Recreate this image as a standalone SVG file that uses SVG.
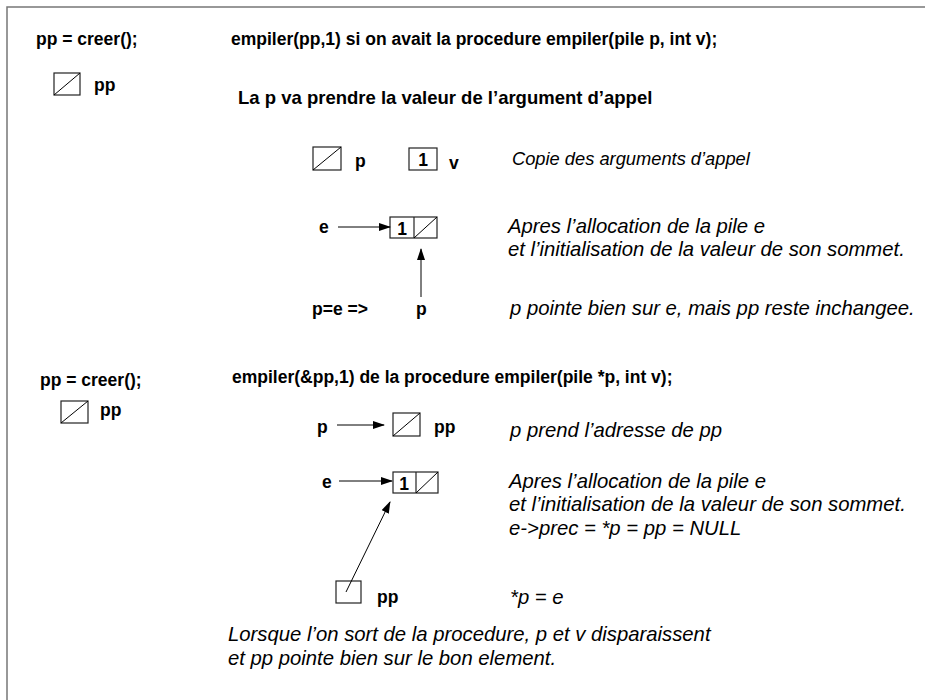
<svg xmlns="http://www.w3.org/2000/svg" width="925" height="700" viewBox="0 0 925 700">
<style>
.b{font-family:"Liberation Sans",Arial,sans-serif;font-weight:bold;font-size:17.5px;fill:#000}
.i{font-family:"Liberation Sans",Arial,sans-serif;font-style:italic;font-size:20.3px;fill:#000}
.box{fill:#fff;stroke:#222;stroke-width:1.2}
.dg{stroke:#000;stroke-width:1;fill:none}
.con{stroke:#000;stroke-width:1;fill:none;marker-end:url(#ah)}
</style>
<defs>
<marker id="ah" markerWidth="12" markerHeight="8" refX="11" refY="4" orient="auto" markerUnits="userSpaceOnUse">
<path d="M0,0 L12,4 L0,8 z" fill="#000"/>
</marker>
</defs>
<rect width="925" height="700" fill="#fff"/>
<path d="M7,700 V7 H925" stroke="#777" stroke-width="1.5" fill="none"/>

<g id="top-titles">
<text class="b" x="36" y="45">pp = creer();</text>
<text class="b" x="231" y="45">empiler(pp,1) si on avait la procedure empiler(pile p, int v);</text>
<text class="b" x="238" y="104" style="font-size:18.5px">La p va prendre la valeur de l’argument d’appel</text>
</g>
<g id="top-pp">
<rect class="box" x="54" y="73" width="26" height="22"/>
<line class="dg" x1="54" y1="95" x2="80" y2="73"/>
<text class="b" x="94" y="91">pp</text>
</g>
<g id="top-p">
<rect class="box" x="313" y="147" width="28" height="23"/>
<line class="dg" x1="313" y1="170" x2="341" y2="147"/>
<text class="b" x="355" y="167">p</text>
</g>
<g id="top-v">
<rect class="box" x="409" y="148" width="28" height="22"/>
<text class="b" x="423" y="166" text-anchor="middle">1</text>
<text class="b" x="449" y="169">v</text>
</g>
<text class="i" x="512" y="165" id="top-copie" style="font-size:18.3px">Copie des arguments d’appel</text>
<g id="top-e">
<text class="b" x="319" y="233">e</text>
</g>
<g id="top-cell">
<rect class="box" x="390" y="217" width="47" height="21"/>
<line class="box" x1="414" y1="217" x2="414" y2="238"/>
<text class="b" x="402" y="235" text-anchor="middle">1</text>
<line class="dg" x1="414" y1="238" x2="437" y2="217"/>
</g>
<g id="top-pe">
<text class="b" x="312" y="315">p=e =&gt;</text>
<text class="b" x="416" y="315">p</text>
</g>
<g id="top-notes">
<text class="i" x="508" y="233">Apres l’allocation de la pile e</text>
<text class="i" x="508" y="256">et l’initialisation de la valeur de son sommet.</text>
<text class="i" x="510" y="315">p pointe bien sur e, mais pp reste inchangee.</text>
</g>

<g id="bot-titles">
<text class="b" x="40" y="386">pp = creer();</text>
<text class="b" x="232" y="383">empiler(&amp;pp,1) de la procedure empiler(pile *p, int v);</text>
</g>
<g id="bot-pp">
<rect class="box" x="61" y="401" width="27" height="22"/>
<line class="dg" x1="61" y1="423" x2="88" y2="401"/>
<text class="b" x="100" y="416">pp</text>
</g>
<g id="bot-p">
<text class="b" x="317" y="433">p</text>
</g>
<g id="bot-pp2">
<rect class="box" x="393" y="413" width="27" height="23"/>
<line class="dg" x1="393" y1="436" x2="420" y2="413"/>
<text class="b" x="434" y="433">pp</text>
</g>
<g id="bot-e">
<text class="b" x="322" y="488">e</text>
</g>
<g id="bot-cell">
<rect class="box" x="393" y="472" width="45" height="21"/>
<line class="box" x1="416" y1="472" x2="416" y2="493"/>
<text class="b" x="404" y="490" text-anchor="middle">1</text>
<line class="dg" x1="416" y1="493" x2="438" y2="472"/>
</g>
<g id="bot-pp3">
<rect class="box" x="336" y="581" width="25" height="22"/>
<text class="b" x="377" y="603">pp</text>
</g>
<g id="bot-notes">
<text class="i" x="510" y="437">p prend l’adresse de pp</text>
<text class="i" x="509" y="488">Apres l’allocation de la pile e</text>
<text class="i" x="509" y="511">et l’initialisation de la valeur de son sommet.</text>
<text class="i" x="509" y="535">e-&gt;prec = *p = pp = NULL</text>
<text class="i" x="510" y="604">*p = e</text>
<text class="i" x="228" y="641">Lorsque l’on sort de la procedure, p et v disparaissent</text>
<text class="i" x="228" y="665">et pp pointe bien sur le bon element.</text>
</g>

<g id="connectors">
<line class="con" x1="338" y1="227" x2="390" y2="227"/>
<line class="con" x1="421" y1="297" x2="421" y2="249"/>
<line class="con" x1="337" y1="425" x2="384" y2="425"/>
<line class="con" x1="339" y1="481" x2="392" y2="481"/>
<line class="con" x1="346" y1="592" x2="390" y2="502"/>
</g>
</svg>
